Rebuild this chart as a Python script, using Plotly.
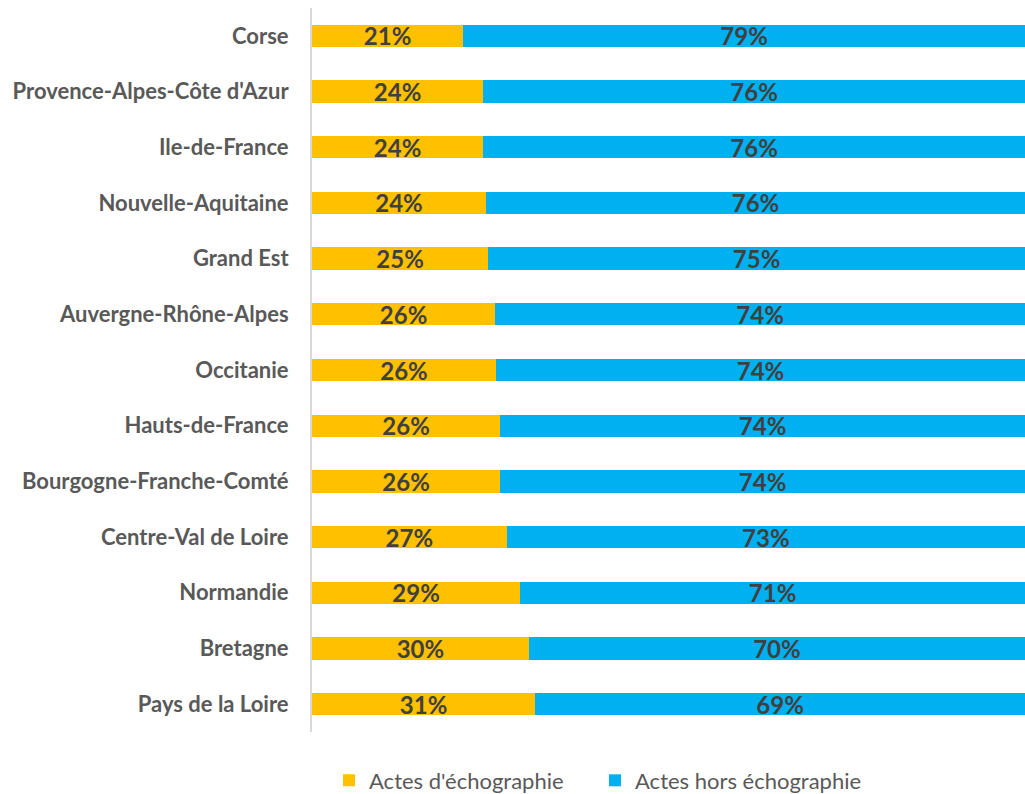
import plotly.graph_objects as go

regions = ["Corse", "Provence-Alpes-Côte d'Azur", "Ile-de-France", "Nouvelle-Aquitaine",
           "Grand Est", "Auvergne-Rhône-Alpes", "Occitanie", "Hauts-de-France",
           "Bourgogne-Franche-Comté", "Centre-Val de Loire", "Normandie", "Bretagne",
           "Pays de la Loire"]
echo = [21.2, 24.0, 24.0, 24.4, 24.7, 25.7, 25.8, 26.4, 26.4, 27.3, 29.2, 30.4, 31.3]
hors = [78.8, 76.0, 76.0, 75.6, 75.3, 74.3, 74.2, 73.6, 73.6, 72.7, 70.8, 69.6, 68.7]

FONT = "Lato"
bar_font = dict(family=FONT, size=24, color="#404040", weight="bold")

fig = go.Figure()
fig.add_trace(go.Bar(y=regions, x=echo, orientation="h", name="Actes d'échographie",
                     marker=dict(color="#FFC000", line=dict(width=0)),
                     texttemplate="%{x:.0f}%", textposition="inside",
                     insidetextanchor="middle", textfont=bar_font, textangle=0,
                     constraintext="none", cliponaxis=False))
fig.add_trace(go.Bar(y=regions, x=hors, orientation="h", name="Actes hors échographie",
                     marker=dict(color="#00B0F0", line=dict(width=0)),
                     texttemplate="%{x:.0f}%", textposition="inside",
                     insidetextanchor="middle", textfont=bar_font, textangle=0,
                     constraintext="none", cliponaxis=False))

fig.update_layout(
    barmode="stack", bargap=0.6,
    width=1025, height=794,
    margin=dict(l=312, r=0, t=8, b=62, autoexpand=False),
    plot_bgcolor="white", paper_bgcolor="white",
    font=dict(family=FONT),
    uniformtext=dict(mode=False),
    xaxis=dict(range=[0, 100], showgrid=False, showticklabels=False, zeroline=False,
               fixedrange=True, automargin=False),
    yaxis=dict(categoryorder="array", categoryarray=regions, autorange="reversed",
               showline=True, linecolor="#D9D9D9", linewidth=2, ticks="",
               ticklabelstandoff=17, automargin=False,
               tickfont=dict(family=FONT, size=22, color="#595959", weight="bold")),
    legend=dict(orientation="h", xref="container", yref="container",
                x=0.321, xanchor="left", y=0.017, yanchor="middle",
                font=dict(family=FONT, size=22, color="#595959"),
                traceorder="normal", itemwidth=30, entrywidth=221),
    showlegend=True,
)

fig.write_html("out.html", config={"displayModeBar": False},
               post_script="document.body.style.margin='0';document.documentElement.style.overflow='hidden';")
